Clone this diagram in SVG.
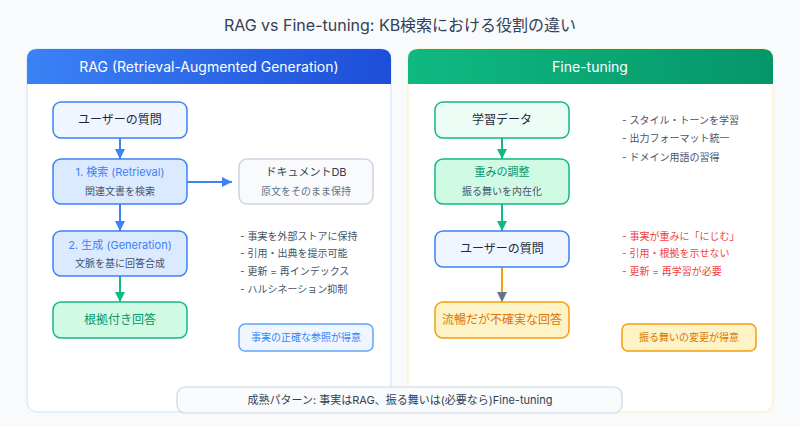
<svg xmlns="http://www.w3.org/2000/svg" width="800" height="427" viewBox="0 0 800 427">
<defs>
<linearGradient id="gBlue" x1="0" y1="0" x2="1" y2="0"><stop offset="0" stop-color="#3b82f6"/><stop offset="1" stop-color="#1d4ed8"/></linearGradient>
<linearGradient id="gGreen" x1="0" y1="0" x2="1" y2="0"><stop offset="0" stop-color="#10b981"/><stop offset="1" stop-color="#059669"/></linearGradient>
<marker id="mBlue" viewBox="0 0 10 10" refX="10" refY="5" markerWidth="10" markerHeight="10" markerUnits="userSpaceOnUse" orient="auto"><path d="M0,0 L10,5 L0,10 z" fill="#3b82f6"/></marker>
<marker id="mGreen" viewBox="0 0 10 10" refX="10" refY="5" markerWidth="10" markerHeight="10" markerUnits="userSpaceOnUse" orient="auto"><path d="M0,0 L10,5 L0,10 z" fill="#10b981"/></marker>
<marker id="mGray" viewBox="0 0 10 10" refX="10" refY="5" markerWidth="10" markerHeight="10" markerUnits="userSpaceOnUse" orient="auto"><path d="M0,0 L10,5 L0,10 z" fill="#64748b"/></marker>
</defs>
<style>
text{font-family:Inter,"Noto Sans CJK JP",sans-serif;}
.c{text-anchor:middle;}
.title{font-size:16px;fill:#334155;}
.hdr{font-size:14px;fill:#ffffff;}
.n{font-size:12px;fill:#1e293b;}
.sub{font-size:10px;fill:#475569;}
.bl{font-size:10px;fill:#475569;}
.red{font-size:10px;fill:#ef4444;}
.ln{fill:none;stroke-width:2;}
</style>
<rect width="800" height="427" fill="#f8fafc"/>
<text class="title c" x="400" y="31">RAG vs Fine-tuning: KB検索における役割の違い</text>

<g id="panel-rag">
<rect x="27" y="49" width="364" height="363" rx="10" fill="#ffffff" stroke="#dbeafe" stroke-width="1.5"/>
<path d="M27,84 V59 Q27,49 37,49 H381 Q391,49 391,59 V84 Z" fill="url(#gBlue)"/>
<text class="hdr c" x="209" y="72">RAG (Retrieval-Augmented Generation)</text>
</g>
<g id="panel-ft">
<rect x="408" y="49" width="365" height="363" rx="10" fill="#ffffff" stroke="#fef3c7" stroke-width="1.5"/>
<path d="M408,84 V59 Q408,49 418,49 H763 Q773,49 773,59 V84 Z" fill="url(#gGreen)"/>
<text class="hdr c" x="590" y="72">Fine-tuning</text>
</g>

<g id="connectors">
<line class="ln" x1="120" y1="138" x2="120" y2="159" stroke="#3b82f6" marker-end="url(#mBlue)"/>
<line class="ln" x1="187" y1="182" x2="232" y2="182" stroke="#3b82f6" marker-end="url(#mBlue)"/>
<line class="ln" x1="120" y1="204" x2="120" y2="231" stroke="#3b82f6" marker-end="url(#mBlue)"/>
<line class="ln" x1="120" y1="276" x2="120" y2="302" stroke="#10b981" marker-end="url(#mGreen)"/>
<line class="ln" x1="502" y1="138" x2="502" y2="159" stroke="#10b981" marker-end="url(#mGreen)"/>
<line class="ln" x1="502" y1="204" x2="502" y2="231" stroke="#10b981" marker-end="url(#mGreen)"/>
<line class="ln" x1="502" y1="267" x2="502" y2="302" stroke="#f59e0b" marker-end="url(#mGray)"/>
</g>

<g id="rag-question">
<rect x="53" y="102" width="134" height="36" rx="8" fill="#eff6ff" stroke="#3b82f6" stroke-width="1.5"/>
<text class="n c" x="120" y="124">ユーザーの質問</text>
</g>
<g id="rag-retrieval">
<rect x="53" y="159" width="134" height="45" rx="8" fill="#dbeafe" stroke="#3b82f6" stroke-width="1.5"/>
<text class="c" x="120" y="176" font-size="11" fill="#3b82f6">1. 検索 (Retrieval)</text>
<text class="sub c" x="120" y="195">関連文書を検索</text>
</g>
<g id="rag-db">
<rect x="239" y="159" width="134" height="45" rx="8" fill="#f8fafc" stroke="#cbd5e1" stroke-width="1.5"/>
<text class="c" x="306" y="176" font-size="11" fill="#334155">ドキュメントDB</text>
<text class="c" x="306" y="195" font-size="10" fill="#64748b">原文をそのまま保持</text>
</g>
<g id="rag-generation">
<rect x="53" y="231" width="134" height="45" rx="8" fill="#dbeafe" stroke="#3b82f6" stroke-width="1.5"/>
<text class="c" x="120" y="249" font-size="11" fill="#3b82f6">2. 生成 (Generation)</text>
<text class="sub c" x="120" y="267">文脈を基に回答合成</text>
</g>
<g id="rag-answer">
<rect x="53" y="302" width="134" height="36" rx="8" fill="#d1fae5" stroke="#10b981" stroke-width="1.5"/>
<text class="c" x="120" y="324" font-size="12" fill="#059669">根拠付き回答</text>
</g>
<g id="rag-notes">
<text class="bl" x="240" y="240">- 事実を外部ストアに保持</text>
<text class="bl" x="240" y="257">- 引用・出典を提示可能</text>
<text class="bl" x="240" y="275">- 更新 = 再インデックス</text>
<text class="bl" x="240" y="293">- ハルシネーション抑制</text>
</g>
<g id="rag-badge">
<rect x="239" y="324" width="134" height="27" rx="6" fill="#eff6ff" stroke="#60a5fa" stroke-width="1.5"/>
<text class="c" x="306" y="341" font-size="10" fill="#3b82f6">事実の正確な参照が得意</text>
</g>

<g id="ft-data">
<rect x="435" y="102" width="134" height="36" rx="8" fill="#ecfdf5" stroke="#10b981" stroke-width="1.5"/>
<text class="n c" x="502" y="124">学習データ</text>
</g>
<g id="ft-weights">
<rect x="435" y="159" width="134" height="45" rx="8" fill="#d1fae5" stroke="#10b981" stroke-width="1.5"/>
<text class="c" x="502" y="176" font-size="11" fill="#059669">重みの調整</text>
<text class="sub c" x="502" y="195">振る舞いを内在化</text>
</g>
<g id="ft-question">
<rect x="435" y="231" width="134" height="36" rx="8" fill="#eff6ff" stroke="#3b82f6" stroke-width="1.5"/>
<text class="n c" x="502" y="253">ユーザーの質問</text>
</g>
<g id="ft-answer">
<rect x="435" y="302" width="134" height="36" rx="8" fill="#fef3c7" stroke="#f59e0b" stroke-width="1.5"/>
<text class="c" x="502" y="324" font-size="12" fill="#d97706">流暢だが不確実な回答</text>
</g>
<g id="ft-notes">
<text class="bl" x="622" y="124">- スタイル・トーンを学習</text>
<text class="bl" x="622" y="142">- 出力フォーマット統一</text>
<text class="bl" x="622" y="161">- ドメイン用語の習得</text>
</g>
<g id="ft-risks">
<text class="red" x="622" y="240">- 事実が重みに「にじむ」</text>
<text class="red" x="622" y="257">- 引用・根拠を示せない</text>
<text class="red" x="622" y="275">- 更新 = 再学習が必要</text>
</g>
<g id="ft-badge">
<rect x="622" y="324" width="134" height="27" rx="6" fill="#fef3c7" stroke="#f59e0b" stroke-width="1.5"/>
<text class="c" x="689" y="341" font-size="10" fill="#d97706">振る舞いの変更が得意</text>
</g>

<g id="summary">
<rect x="177" y="387" width="445" height="26" rx="8" fill="#f8fafc" stroke="#cbd5e1" stroke-width="1.2"/>
<text class="c" x="400" y="404" font-size="11" fill="#334155">成熟パターン: 事実はRAG、振る舞いは(必要なら)Fine-tuning</text>
</g>
</svg>
